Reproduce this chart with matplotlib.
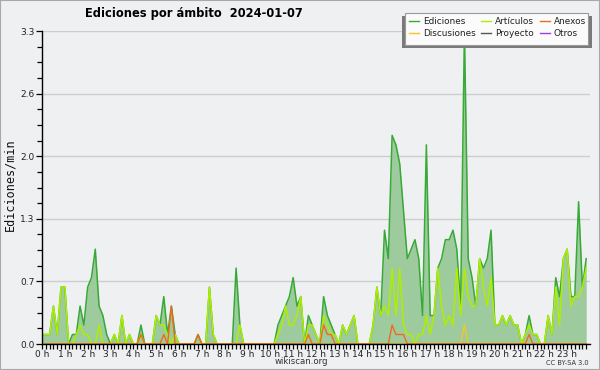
import matplotlib
matplotlib.use('Agg')
import matplotlib.pyplot as plt
import numpy as np
from matplotlib.patches import Rectangle
from matplotlib.lines import Line2D
from matplotlib import font_manager as fm

plt.rcParams['font.family'] = ['DejaVu Sans']

# 10-minute bins, values in edits/min
ediciones = [
    0.1, 0.1, 0.1, 0.4, 0.1, 0.6,   # 0h
    0.6, 0.0, 0.1, 0.1, 0.4, 0.2,   # 1h
    0.6, 0.7, 1.0, 0.4, 0.3, 0.1,   # 2h
    0.0, 0.1, 0.0, 0.3, 0.0, 0.1,   # 3h
    0.0, 0.0, 0.2, 0.0, 0.0, 0.0,   # 4h
    0.3, 0.2, 0.5, 0.1, 0.4, 0.1,   # 5h
    0.0, 0.0, 0.0, 0.0, 0.0, 0.1,   # 6h
    0.0, 0.0, 0.6, 0.1, 0.0, 0.0,   # 7h
    0.0, 0.0, 0.0, 0.8, 0.2, 0.0,   # 8h
    0.0, 0.0, 0.0, 0.0, 0.0, 0.0,   # 9h
    0.0, 0.0, 0.2, 0.3, 0.4, 0.5,   # 10h
    0.7, 0.4, 0.5, 0.0, 0.3, 0.2,   # 11h
    0.1, 0.0, 0.5, 0.3, 0.2, 0.1,   # 12h
    0.0, 0.2, 0.1, 0.2, 0.3, 0.0,   # 13h
    0.0, 0.0, 0.0, 0.2, 0.6, 0.3,   # 14h
    1.2, 0.9, 2.2, 2.1, 1.9, 1.4,   # 15h
    0.9, 1.0, 1.1, 0.9, 0.3, 2.1,   # 16h
    0.3, 0.3, 0.8, 0.9, 1.1, 1.1,   # 17h
    1.2, 1.0, 0.4, 3.3, 0.9, 0.7,   # 18h
    0.4, 0.9, 0.8, 0.9, 1.2, 0.2,   # 19h
    0.2, 0.3, 0.2, 0.3, 0.2, 0.2,   # 20h
    0.0, 0.1, 0.3, 0.1, 0.1, 0.0,   # 21h
    0.0, 0.3, 0.1, 0.7, 0.5, 0.9,   # 22h
    1.0, 0.5, 0.5, 1.5, 0.6, 0.9,   # 23h
]
articulos = [
    0.1, 0.1, 0.1, 0.4, 0.1, 0.6,
    0.6, 0.0, 0.0, 0.1, 0.2, 0.1,
    0.1, 0.0, 0.0, 0.2, 0.0, 0.0,
    0.0, 0.1, 0.0, 0.3, 0.0, 0.1,
    0.0, 0.0, 0.1, 0.0, 0.0, 0.0,
    0.3, 0.2, 0.2, 0.1, 0.0, 0.1,
    0.0, 0.0, 0.0, 0.0, 0.0, 0.0,
    0.0, 0.0, 0.6, 0.1, 0.0, 0.0,
    0.0, 0.0, 0.0, 0.0, 0.2, 0.0,
    0.0, 0.0, 0.0, 0.0, 0.0, 0.0,
    0.0, 0.0, 0.1, 0.2, 0.4, 0.2,
    0.2, 0.3, 0.5, 0.0, 0.2, 0.2,
    0.1, 0.0, 0.3, 0.2, 0.1, 0.1,
    0.0, 0.2, 0.1, 0.2, 0.3, 0.0,
    0.0, 0.0, 0.0, 0.2, 0.6, 0.3,
    0.4, 0.3, 0.8, 0.3, 0.8, 0.2,
    0.1, 0.1, 0.0, 0.1, 0.1, 0.3,
    0.1, 0.3, 0.8, 0.4, 0.2, 0.3,
    0.2, 0.8, 0.3, 0.8, 0.5, 0.4,
    0.4, 0.9, 0.6, 0.4, 0.7, 0.2,
    0.2, 0.3, 0.2, 0.3, 0.2, 0.2,
    0.0, 0.1, 0.2, 0.1, 0.1, 0.0,
    0.0, 0.3, 0.1, 0.6, 0.2, 0.9,
    1.0, 0.4, 0.5, 0.5, 0.6, 0.8,
]
anexos = [0.0] * 144
for _i, _v in [(26, 0.1), (32, 0.1), (34, 0.4), (41, 0.1), (70, 0.1), (74, 0.2),
               (75, 0.1), (76, 0.1), (92, 0.2), (93, 0.1), (94, 0.1), (95, 0.1),
               (128, 0.1)]:
    anexos[_i] = _v
discusiones = [0.0] * 144
discusiones[111] = 0.2
proyecto = [0.0] * 144
otros = [0.0] * 144

hour_labels = [f"{h} h" for h in range(24)]
y_ticks = [0.0, 0.66, 1.32, 1.98, 2.64, 3.3]

# condensed face if installed (reference uses a narrow face)
_has_cond = any(f.name == 'DejaVu Sans' and str(f.stretch) in ('condensed', 'semi-condensed', '87', '75')
                for f in fm.fontManager.ttflist)
title_kw = dict(fontsize=9.2, fontstretch='condensed') if _has_cond else dict(fontsize=8.3)

W, H = 600, 370
fig = plt.figure(figsize=(6, 3.7), dpi=100)
bg = '#eff0f2'
fig.patch.set_facecolor(bg)
fig.patches.append(Rectangle((0, 0), 1, 1, transform=fig.transFigure, fill=False,
                             edgecolor='#a8a8a8', lw=1.5, zorder=0))

ax = fig.add_axes([42 / W, 26 / H, 548 / W, 313 / H])
ax.set_facecolor(bg)
x = np.arange(144) / 6.0

c_edit_fill = '#9ecb9e'
c_edit = '#37a937'
c_art = '#aeee00'
c_anx = '#f06a1e'
c_dis = '#f5c52a'
c_pro = '#555555'
c_otr = '#9b3de8'

ax.fill_between(x, 0, ediciones, color=c_edit_fill, lw=0, zorder=2)
ax.plot(x, ediciones, color=c_edit, lw=1.1, zorder=3)
ax.plot(x, otros, color=c_otr, lw=1.0, zorder=2.5)
ax.plot(x, proyecto, color=c_pro, lw=1.0, zorder=2.6)
ax.plot(x, articulos, color=c_art, lw=1.1, zorder=4)
ax.plot(x, discusiones, color=c_dis, lw=1.0, zorder=5)
ax.plot(x, anexos, color=c_anx, lw=1.0, zorder=6)

ax.set_xlim(0, 24)
ax.set_ylim(0, 3.3)
ax.set_yticks(y_ticks)
ax.set_yticklabels([f"{v:.1f}" for v in y_ticks])
ax.set_yticks(np.arange(0, 3.31, 0.165), minor=True)
ax.set_xticks(range(24))
ax.set_xticklabels(hour_labels)
ax.set_xticks(np.arange(0, 24, 1 / 6.0), minor=True)
ax.grid(axis='y', which='major', color='#cdcdcd', lw=1.0, zorder=1)
ax.set_axisbelow(True)
for s in ['top', 'right']:
    ax.spines[s].set_visible(False)
for s in ['left', 'bottom']:
    ax.spines[s].set_color('black')
    ax.spines[s].set_linewidth(1.0)
    ax.spines[s].set_zorder(7)
ax.tick_params(which='both', direction='out', length=3.5, width=0.9, colors='black',
               labelsize=6.5, labelcolor='#222222')
ax.tick_params(axis='x', which='both', pad=0.5)
ax.tick_params(axis='y', which='major', length=4, pad=1.5)

def fx(px):
    return px / W

def fy(py):
    return 1 - py / H

fig.text(fx(10), fy(185), 'Ediciones/min', family='DejaVu Sans Mono', fontsize=8.5,
         rotation=90, ha='center', va='center', color='#111111')
fig.text(fx(85), fy(14), 'Ediciones por ámbito  2024-01-07', fontweight='bold',
         ha='left', va='center', **title_kw)
fig.text(fx(301), fy(362), 'wikiscan.org', fontsize=6.2, ha='center', va='center', color='#333333')
fig.text(fx(589), fy(363), 'CC BY-SA 3.0', fontsize=4.8, ha='right', va='center', color='#333333')

# legend box
fig.patches.append(Rectangle((fx(402), fy(48)), fx(591.5) - fx(402), fy(16) - fy(48),
                             transform=fig.transFigure, facecolor='#7a7a7a', lw=0, zorder=10))
fig.patches.append(Rectangle((fx(405), fy(45)), fx(588) - fx(405), fy(13) - fy(45),
                             transform=fig.transFigure, facecolor='#fbfbfb', edgecolor='#9a9a9a',
                             lw=0.8, zorder=11))
entries = [
    ('Ediciones', c_edit, 409, 423, 21),
    ('Artículos', c_art, 481, 495, 21),
    ('Anexos', c_anx, 540, 554, 21),
    ('Discusiones', c_dis, 409, 423, 33),
    ('Proyecto', c_pro, 481, 495, 33),
    ('Otros', c_otr, 540, 554, 33),
]
for name, col, lx, tx, ty in entries:
    fig.lines.append(Line2D([fx(lx), fx(lx + 10)], [fy(ty), fy(ty)], transform=fig.transFigure,
                            color=col, lw=1.0, zorder=12))
    fig.text(fx(tx), fy(ty), name, fontsize=6.4, ha='left', va='center', zorder=12, color='#222222')

fig.savefig('out.png', dpi=100, facecolor=bg)
